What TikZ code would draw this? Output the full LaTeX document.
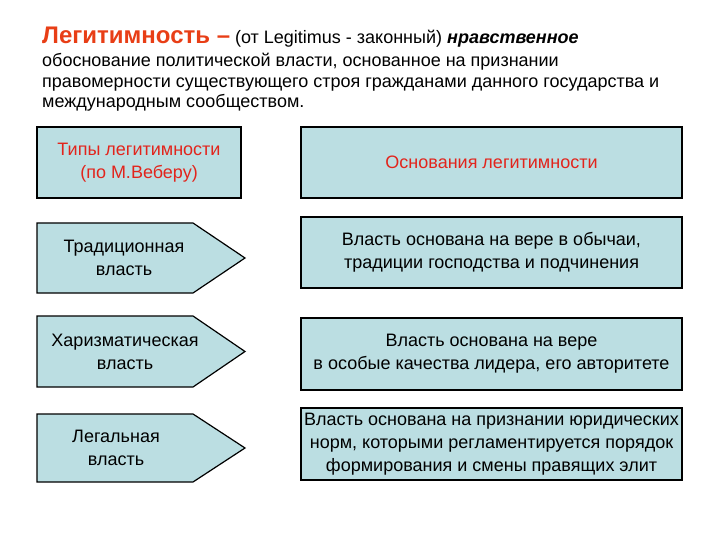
\documentclass[tikz,border=0pt]{standalone}
\usepackage{fontspec}
\setmainfont{Liberation Sans}
\definecolor{boxfill}{RGB}{187,222,226}
\definecolor{titlered}{RGB}{232,62,22}
\definecolor{labelred}{RGB}{226,36,28}
\tikzset{
  box/.style={draw,line width=1.2pt,fill=boxfill,align=center,inner sep=0pt},
  txt/.style={align=center,font=\fontsize{18}{23}\selectfont},
  line/.style={anchor=base west,inner sep=0pt,font=\fontsize{18}{21}\selectfont}
}
\begin{document}
\begin{tikzpicture}[x=1pt,y=-1pt]
  \useasboundingbox (0,0) rectangle (720,540);
  % заголовок
  \node[line] (title) at (42,44) {{\fontsize{24}{28}\selectfont\bfseries\color{titlered}Легитимность –} (от Legitimus - законный) \textbf{\textit{нравственное}}};
  \node[line] (def1) at (42,67) {обоснование политической власти, основанное на признании};
  \node[line] (def2) at (42,88) {правомерности существующего строя гражданами данного государства и};
  \node[line] (def3) at (42,108) {международным сообществом.};
  % левый заголовок
  \node[box,txt,minimum width=204pt,minimum height=71pt,text=labelred] (types) at (139,162.5) {Типы легитимности\\(по М.Веберу)};
  % правый заголовок
  \node[box,txt,minimum width=381pt,minimum height=71pt,text=labelred] (bases) at (491.5,162.5) {Основания легитимности};
  % стрелки
  \draw[line width=1.2pt,fill=boxfill] (37,223) -- (193,223) -- (245,258) -- (193,293) -- (37,293) -- cycle;
  \node[txt] (trad) at (124,258) {Традиционная\\власть};
  \draw[line width=1.2pt,fill=boxfill] (37,316) -- (193,316) -- (245,351.5) -- (193,387) -- (37,387) -- cycle;
  \node[txt] (char) at (125,351.5) {Харизматическая\\власть};
  \draw[line width=1.2pt,fill=boxfill] (37,414) -- (193,414) -- (245,448) -- (193,482) -- (37,482) -- cycle;
  \node[txt] (legal) at (116,448) {Легальная\\власть};
  % основания
  \node[box,txt,minimum width=381pt,minimum height=71pt] (btrad) at (491.5,252.5) {Власть основана на вере в обычаи,\\традиции господства и подчинения};
  \node[box,txt,minimum width=381pt,minimum height=72pt] (bchar) at (491.5,354) {Власть основана на вере\\в особые качества лидера, его авторитете};
  \node[box,txt,minimum width=381pt,minimum height=72pt] (blegal) at (491.5,444) {Власть основана на признании юридических\\норм, которыми регламентируется порядок\\формирования и смены правящих элит};
\end{tikzpicture}
\end{document}
